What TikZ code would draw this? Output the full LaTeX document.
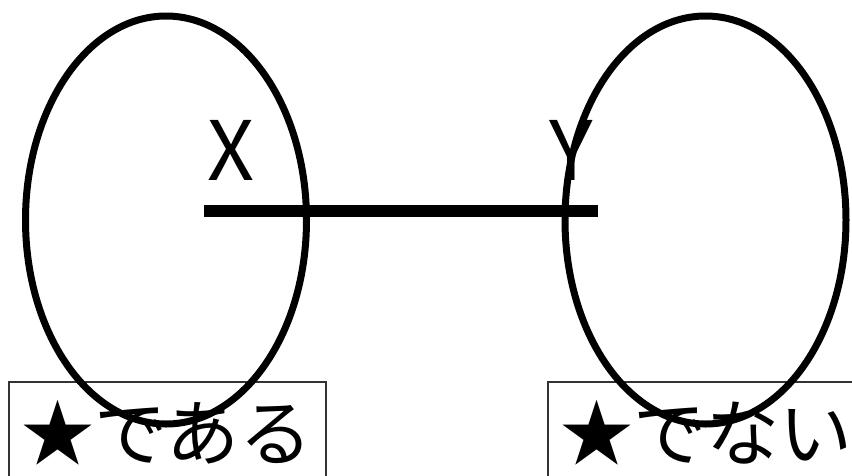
\documentclass[tikz,border=0pt]{standalone}
\usepackage{fontspec}
\setmainfont{Noto Sans CJK JP}
\usetikzlibrary{shapes.geometric}
\tikzset{
  oval/.style={draw, ellipse, line width=7pt, minimum width=281pt, minimum height=408pt, inner sep=0pt},
  labelbox/.style={draw=black!80, line width=2pt, anchor=north west, minimum width=317pt, minimum height=130pt, inner sep=0pt},
  boxtext/.style={anchor=base west, font=\fontsize{73}{88}\selectfont, inner sep=0pt},
  lbl/.style={anchor=base, font=\fontsize{82}{98}\selectfont, inner sep=0pt},
  link/.style={line width=12pt}
}
\begin{document}
\begin{tikzpicture}[x=1pt,y=1pt]
\useasboundingbox (0,0) rectangle (852,-475);
\clip (0,0) rectangle (852,-475);
\node[labelbox] (bl) at (8,-381) {};
\node[labelbox] (br) at (547,-381) {};
\node[boxtext] (tl) at (21,-460) {★である};
\node[boxtext] (tr) at (560,-460) {★でない};
\node[oval] (L) at (166,-220) {};
\node[oval] (R) at (705.5,-220) {};
\node[lbl] (X) at (231,-180) {X};
\node[lbl] (Y) at (571,-180) {Y};
\coordinate (a) at (204,-211);
\coordinate (b) at (598,-211);
\draw[link] (a) -- (b);
\end{tikzpicture}
\end{document}
